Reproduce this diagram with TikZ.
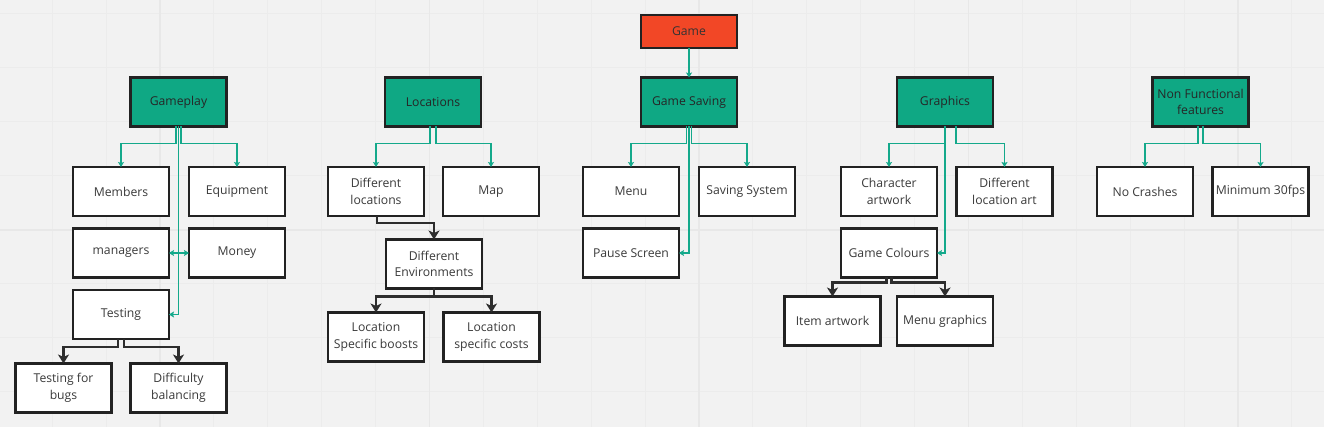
\documentclass[tikz,border=0pt]{standalone}
\usepackage{fontspec}
\setmainfont{Open Sans}
\usetikzlibrary{arrows.meta}
\definecolor{bg}{HTML}{F2F2F2}
\definecolor{gridminor}{HTML}{ECECEC}
\definecolor{gridmajor}{HTML}{E8E8E8}
\definecolor{tealfill}{HTML}{0FA884}
\definecolor{tealline}{HTML}{14A98B}
\definecolor{redfill}{HTML}{F24726}
\definecolor{border}{HTML}{222222}
\definecolor{txt}{HTML}{3A3A3A}
\tikzset{
  box/.style={draw=border, line width=2.6pt, fill=white, minimum width=96pt, minimum height=49pt,
    inner sep=1pt, outer sep=0pt, align=center, text=txt, font=\fontsize{12.2}{16.7}\selectfont},
  topbox/.style={box, fill=tealfill, text=black!85},
  rootbox/.style={box, fill=redfill, minimum height=33pt, text=black!80},
  tl/.style={draw=tealline, line width=1.5pt, -{Stealth[length=5pt,width=6pt,inset=1pt]}},
  dk/.style={draw=border!95, line width=2.6pt, -{Stealth[length=9pt,width=11pt,inset=2.5pt]}},
}
\begin{document}
\begin{tikzpicture}[x=1pt,y=-1pt]
\fill[bg] (0,0) rectangle (1324,427);
\useasboundingbox (0,0) rectangle (1324,427);
% grid
\foreach \k in {0,...,25} {
  \pgfmathsetmacro{\gx}{-1.7+53.9*\k}
  \draw[gridminor, line width=1pt] (\gx,0) -- (\gx,427);
}
\foreach \k in {0,...,8} {
  \pgfmathsetmacro{\gy}{14+53.9*\k}
  \draw[gridminor, line width=1pt] (0,\gy) -- (1324,\gy);
}
\foreach \gx in {160,429.5,699,968.5,1238} {
  \draw[gridmajor, line width=1.6pt] (\gx,0) -- (\gx,427);
}
\draw[gridmajor, line width=1.6pt] (0,230) -- (1324,230);

% nodes
\node[rootbox] (game) at (689,31.5) {Game};
\node[topbox] (gp) at (178.5,102) {Gameplay};
\node[topbox] (loc) at (433,102) {Locations};
\node[topbox] (gs) at (689,102) {Game Saving};
\node[topbox] (gr) at (945,102) {Graphics};
\node[topbox] (nf) at (1200.5,102) {Non Functional\\features};

\node[box] (mem) at (121,191.5) {Members};
\node[box] (equ) at (237,191.5) {Equipment};
\node[box] (mgr) at (121,253) {managers};
\node[box] (mon) at (237,253) {Money};
\node[box] (tst) at (121,314.5) {Testing};
\node[box] (bugs) at (63.5,388) {Testing for\\bugs};
\node[box] (diff) at (178.5,388) {Difficulty\\balancing};

\node[box] (dloc) at (376,191.5) {Different\\locations};
\node[box] (map) at (491,191.5) {Map};
\node[box] (denv) at (434,264) {Different\\Environments};
\node[box] (lsb) at (376,337) {Location\\Specific boosts};
\node[box] (lsc) at (491.5,337) {Location\\specific costs};

\node[box] (menu) at (631,191.5) {Menu};
\node[box] (sav) at (747,191.5) {Saving System};
\node[box] (pause) at (631,253) {Pause Screen};

\node[box] (char) at (889,191.5) {Character\\artwork};
\node[box] (dla) at (1004.5,191.5) {Different\\location art};
\node[box] (gc) at (889,253) {Game Colours};
\node[box] (item) at (832.5,321) {Item artwork};
\node[box] (mg) at (945,321) {Menu graphics};

\node[box] (nc) at (1145,191.5) {No Crashes};
\node[box] (m30) at (1260.5,191.5) {Minimum 30fps};

% teal connectors
\draw[tl] (game.south) -- (gs.north);

\draw[tl] ([xshift=-2.5pt]gp.south) -- ++(0,17) -| (mem.north);
\draw[tl] ([xshift=2.5pt]gp.south) -- ++(0,17) -| (equ.north);
\draw[tl] (gp.south) |- (tst.east);
\draw[tl] (gp.south |- mgr.east) -- (mgr.east);
\draw[tl] (gp.south |- mon.west) -- (mon.west);

\draw[tl] ([xshift=-3pt]loc.south) -- ++(0,17) -| (dloc.north);
\draw[tl] ([xshift=3pt]loc.south) -- ++(0,17) -| (map.north);

\draw[tl] ([xshift=-2.5pt]gs.south) -- ++(0,17) -| (menu.north);
\draw[tl] ([xshift=2.5pt]gs.south) -- ++(0,17) -| (sav.north);
\draw[tl] (gs.south) |- (pause.east);

\draw[tl] (gr.south) -- ++(0,17) -| (char.north);
\draw[tl] (gr.south) |- (gc.east);
\draw[tl] ([xshift=11pt]gr.south) -- ++(0,17) -| (dla.north);

\draw[tl] ([xshift=-2.5pt]nf.south) -- ++(0,17) -| (nc.north);
\draw[tl] ([xshift=2.5pt]nf.south) -- ++(0,17) -| (m30.north);

% dark connectors
\draw[dk] ([xshift=-3pt]tst.south) -- ++(0,8) -| (bugs.north);
\draw[dk] ([xshift=3pt]tst.south) -- ++(0,8) -| (diff.north);
\draw[dk] ([xshift=1pt]dloc.south) -- ++(0,7) -| (denv.north);
\draw[dk] (denv.south) -- ++(0,8) -| (lsb.north);
\draw[dk] (denv.south) -- ++(0,8) -| (lsc.north);
\draw[dk] ([xshift=-2.5pt]gc.south) -- ++(0,5) -| (item.north);
\draw[dk] ([xshift=2.5pt]gc.south) -- ++(0,5) -| (mg.north);
\end{tikzpicture}
\end{document}
